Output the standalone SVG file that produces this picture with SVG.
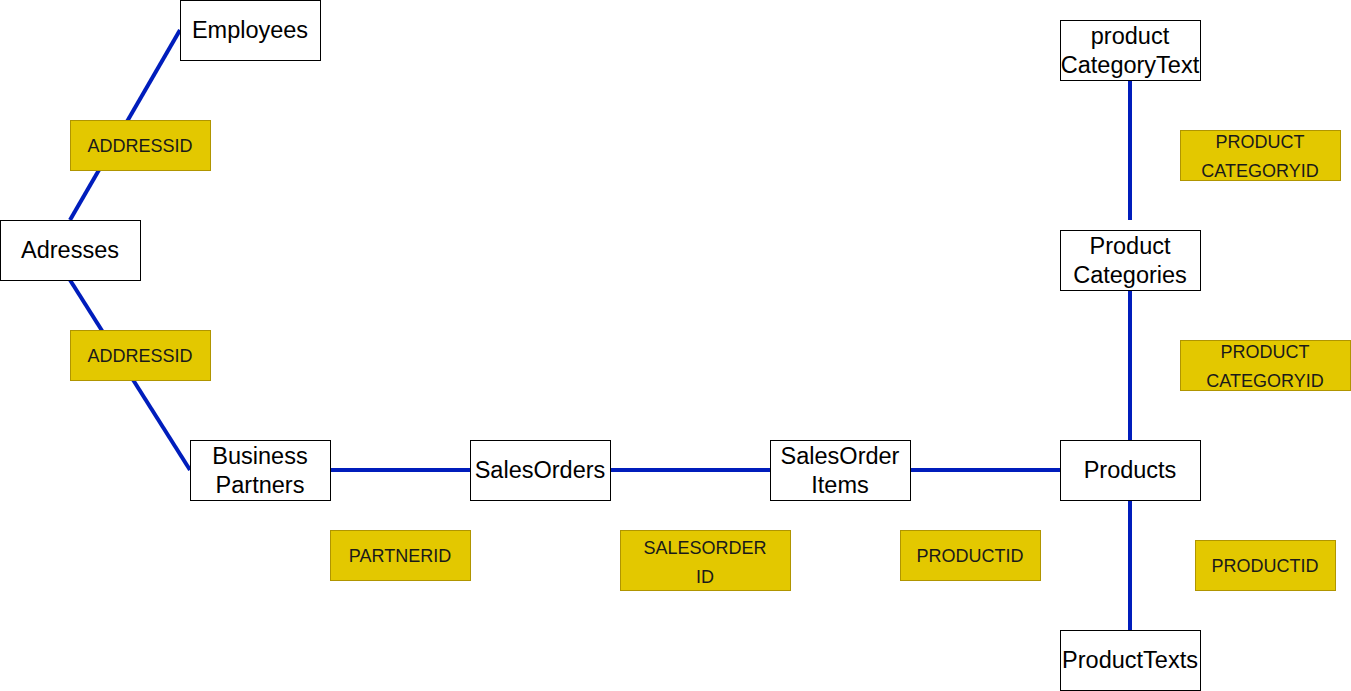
<svg xmlns="http://www.w3.org/2000/svg" width="1351" height="691" viewBox="0 0 1351 691">
<style>
.node rect{fill:#fff;stroke:#000;stroke-width:1}
.node text{font-family:"Liberation Sans",Arial,sans-serif;font-size:23.5px;fill:#000;text-anchor:middle;dominant-baseline:central}
.lbl rect{fill:#e3c800;stroke:#b09500;stroke-width:1}
.lbl text{font-family:"Liberation Sans",Arial,sans-serif;font-size:18px;fill:#1a1a1a;text-anchor:middle;dominant-baseline:central}
.conn line{stroke:#001dbc;stroke-width:4;fill:none}
</style>
<rect width="1351" height="691" fill="#fff"/>
<g id="connectors" class="conn">
<line x1="180" y1="30" x2="70" y2="220"/>
<line x1="70" y1="280" x2="190" y2="470"/>
<line x1="330" y1="470" x2="470" y2="470"/>
<line x1="610" y1="470" x2="770" y2="470"/>
<line x1="910" y1="470" x2="1060" y2="470"/>
<line x1="1130" y1="440" x2="1130" y2="290"/>
<line x1="1130" y1="220" x2="1130" y2="80"/>
<line x1="1130" y1="500" x2="1130" y2="630"/>
</g>
<g id="label-addressid-1" class="lbl"><rect x="70.5" y="120.5" width="140" height="50"/><text x="140" y="146">ADDRESSID</text></g>
<g id="label-addressid-2" class="lbl"><rect x="70.5" y="330.5" width="140" height="50"/><text x="140" y="356">ADDRESSID</text></g>
<g id="label-partnerid" class="lbl"><rect x="330.5" y="530.5" width="140" height="50"/><text x="400" y="556">PARTNERID</text></g>
<g id="label-salesorderid" class="lbl"><rect x="620.5" y="530.5" width="170" height="60"/><text x="705" y="548">SALESORDER</text><text x="705" y="577">ID</text></g>
<g id="label-productid-1" class="lbl"><rect x="900.5" y="530.5" width="140" height="50"/><text x="970" y="556">PRODUCTID</text></g>
<g id="label-productcategoryid-1" class="lbl"><rect x="1180.5" y="130.5" width="160" height="50"/><text x="1260" y="142">PRODUCT</text><text x="1260" y="171">CATEGORYID</text></g>
<g id="label-productcategoryid-2" class="lbl"><rect x="1180.5" y="340.5" width="170" height="50"/><text x="1265" y="352">PRODUCT</text><text x="1265" y="381">CATEGORYID</text></g>
<g id="label-productid-2" class="lbl"><rect x="1195.5" y="540.5" width="140" height="50"/><text x="1265" y="566">PRODUCTID</text></g>
<g id="employees" class="node"><rect x="180.5" y="0.5" width="140" height="60"/><text x="250" y="30">Employees</text></g>
<g id="adresses" class="node"><rect x="0.5" y="220.5" width="140" height="60"/><text x="70" y="250">Adresses</text></g>
<g id="business-partners" class="node"><rect x="190.5" y="440.5" width="140" height="60"/><text x="260" y="456">Business</text><text x="260" y="485">Partners</text></g>
<g id="sales-orders" class="node"><rect x="470.5" y="440.5" width="140" height="60"/><text x="540" y="470">SalesOrders</text></g>
<g id="sales-order-items" class="node"><rect x="770.5" y="440.5" width="140" height="60"/><text x="840" y="456">SalesOrder</text><text x="840" y="485">Items</text></g>
<g id="products" class="node"><rect x="1060.5" y="440.5" width="140" height="60"/><text x="1130" y="470">Products</text></g>
<g id="product-texts" class="node"><rect x="1060.5" y="630.5" width="140" height="60"/><text x="1130" y="660">ProductTexts</text></g>
<g id="product-categories" class="node"><rect x="1060.5" y="230.5" width="140" height="60"/><text x="1130" y="246">Product</text><text x="1130" y="275">Categories</text></g>
<g id="product-category-text" class="node"><rect x="1060.5" y="20.5" width="140" height="60"/><text x="1130" y="36">product</text><text x="1130" y="65">CategoryText</text></g>
</svg>
